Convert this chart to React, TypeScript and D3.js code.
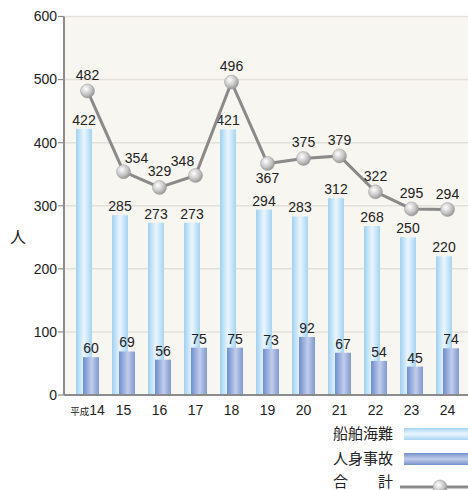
import React from "react";
import * as d3 from "d3";

const years = ["14", "15", "16", "17", "18", "19", "20", "21", "22", "23", "24"];
const shipAccidents = [422, 285, 273, 273, 421, 294, 283, 312, 268, 250, 220];
const personalAccidents = [60, 69, 56, 75, 75, 73, 92, 67, 54, 45, 74];
const totals = [482, 354, 329, 348, 496, 367, 375, 379, 322, 295, 294];
const totalLabelPlacement = ["top", "topRight", "top", "topLeft", "top", "bottom", "top", "top", "top", "top", "top"];
const yTicks = [0, 100, 200, 300, 400, 500, 600];
const legendLabels = ["船舶海難", "人身事故", "合　　計"];

const W = 468, H = 490;
const left = 64, right = 468, top = 16.5, bottom = 395;
const font = "'Liberation Sans', Arial, Helvetica, sans-serif";
const cjk = "'Noto Sans CJK JP', sans-serif";

export default function App() {
  const x = d3.scaleBand<string>().domain(years).range([69.5, 465.5]).paddingInner(0).paddingOuter(0);
  const y = d3.scaleLinear().domain([0, 600]).range([bottom, top]);
  const bw = 16;
  const off = 3.5;
  const cx = (d: string) => (x(d) as number) + x.bandwidth() / 2;
  const line = d3.line<number>().x((_, i) => cx(years[i])).y((v) => y(v));

  const labelPos = (p: string) => {
    switch (p) {
      case "topRight": return { dx: 13, dy: -9 };
      case "topLeft": return { dx: -13, dy: -9 };
      case "bottom": return { dx: 0, dy: 20 };
      default: return { dx: 0, dy: -11 };
    }
  };

  return (
    <svg width={W} height={H} style={{ position: "absolute", left: 0, top: 0 }}>
      <defs>
        <linearGradient id="lightH" x1="0" x2="1" y1="0" y2="0">
          <stop offset="0" stopColor="#9fd0f0" />
          <stop offset="0.5" stopColor="#eaf6fd" />
          <stop offset="1" stopColor="#a6d4f2" />
        </linearGradient>
        <linearGradient id="darkH" x1="0" x2="1" y1="0" y2="0">
          <stop offset="0" stopColor="#6e8dcc" />
          <stop offset="0.55" stopColor="#c2cdeb" />
          <stop offset="1" stopColor="#7d98d2" />
        </linearGradient>
        <linearGradient id="lightV" x1="0" x2="0" y1="0" y2="1">
          <stop offset="0" stopColor="#a6d4f2" />
          <stop offset="0.5" stopColor="#eaf6fd" />
          <stop offset="1" stopColor="#a6d4f2" />
        </linearGradient>
        <linearGradient id="darkV" x1="0" x2="0" y1="0" y2="1">
          <stop offset="0" stopColor="#7391cd" />
          <stop offset="0.5" stopColor="#c2cdeb" />
          <stop offset="1" stopColor="#7391cd" />
        </linearGradient>
        <radialGradient id="ball" cx="0.38" cy="0.35" r="0.7">
          <stop offset="0" stopColor="#ffffff" />
          <stop offset="0.6" stopColor="#c4c4c4" />
          <stop offset="1" stopColor="#8f8f8f" />
        </radialGradient>
      </defs>
      <rect x={0} y={0} width={W} height={H} fill="#ffffff" />
      <rect x={left} y={top} width={right - left} height={bottom - top} fill="#f8f6f0" />
      {yTicks.map((t) => (
        <g key={t}>
          {t > 0 && <line x1={left} x2={right} y1={y(t)} y2={y(t)} stroke="#e2e0dc" strokeWidth={1.5} />}
          <line x1={left - 6} x2={left} y1={y(t)} y2={y(t)} stroke="#8c8c8c" strokeWidth={1.2} />
          <text x={57} y={y(t)} dy="0.35em" textAnchor="end" fontFamily={font} fontSize={14} fill="#222">{t}</text>
        </g>
      ))}
      {years.map((d, i) => (
        <g key={d}>
          <rect x={cx(d) - off - bw / 2} y={y(shipAccidents[i])} width={bw} height={bottom - y(shipAccidents[i])} fill="url(#lightH)" />
          <rect x={cx(d) + off - bw / 2} y={y(personalAccidents[i])} width={bw} height={bottom - y(personalAccidents[i])} fill="url(#darkH)" />
          <text x={cx(d) - off} y={y(shipAccidents[i]) - 4} textAnchor="middle" fontFamily={font} fontSize={14} fill="#222">{shipAccidents[i]}</text>
          <text x={cx(d) + off} y={y(personalAccidents[i]) - 4} textAnchor="middle" fontFamily={font} fontSize={14} fill="#222">{personalAccidents[i]}</text>
          <text x={cx(d)} y={415} textAnchor="middle" fontFamily={font} fontSize={14} fill="#222">
            {i === 0 && <tspan fontFamily={cjk} fontSize={9.5}>平成</tspan>}
            <tspan>{d}</tspan>
          </text>
        </g>
      ))}
      <line x1={left} x2={left} y1={top} y2={bottom} stroke="#8c8c8c" strokeWidth={2} />
      <line x1={left} x2={right} y1={bottom} y2={bottom} stroke="#8c8c8c" strokeWidth={2} />
      <path d={line(totals) || ""} fill="none" stroke="#8a8a8a" strokeWidth={3} />
      {years.map((d, i) => {
        const p = labelPos(totalLabelPlacement[i]);
        return (
          <g key={"t" + d}>
            <circle cx={cx(d)} cy={y(totals[i])} r={7} fill="url(#ball)" stroke="#9a9a9a" strokeWidth={0.5} />
            <text x={cx(d) + p.dx} y={y(totals[i]) + p.dy} textAnchor="middle" fontFamily={font} fontSize={14} fill="#222">{totals[i]}</text>
          </g>
        );
      })}
      <text x={18} y={243} textAnchor="middle" fontFamily={cjk} fontSize={16} fill="#222">人</text>
      <text x={333} y={439} fontFamily={cjk} fontSize={15} fill="#222">{legendLabels[0]}</text>
      <rect x={404} y={428} width={64} height={12} fill="url(#lightV)" />
      <text x={333} y={464} fontFamily={cjk} fontSize={15} fill="#222">{legendLabels[1]}</text>
      <rect x={404} y={453} width={64} height={12} fill="url(#darkV)" />
      <text x={333} y={487} fontFamily={cjk} fontSize={15} fill="#222">{legendLabels[2]}</text>
      <line x1={400} x2={468} y1={487} y2={487} stroke="#8a8a8a" strokeWidth={3} />
      <circle cx={440} cy={487} r={7} fill="url(#ball)" stroke="#9a9a9a" strokeWidth={0.5} />
    </svg>
  );
}
